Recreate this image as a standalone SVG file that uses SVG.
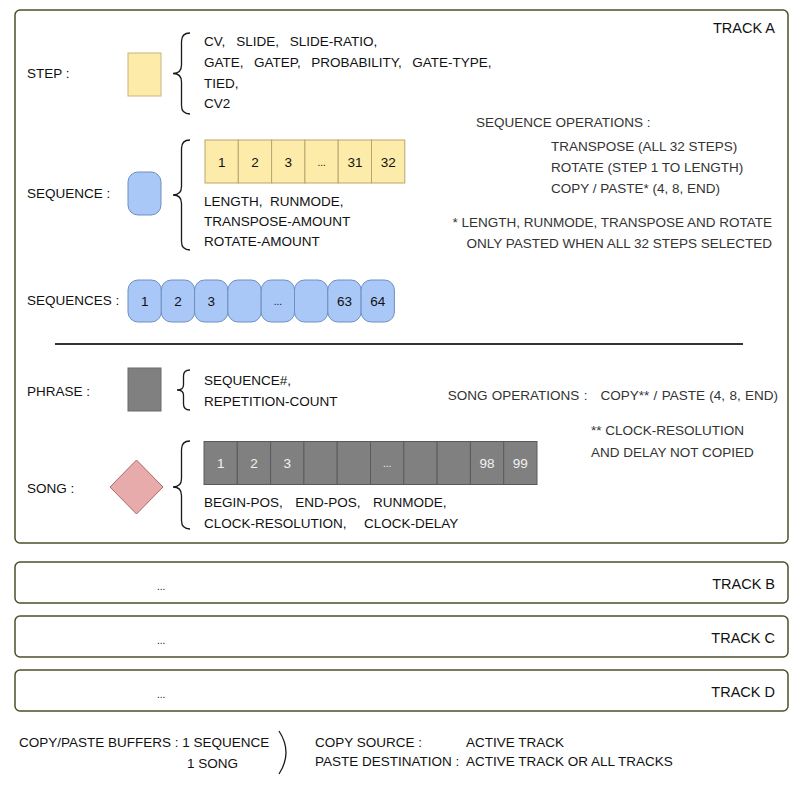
<svg xmlns="http://www.w3.org/2000/svg" width="797" height="788" viewBox="0 0 797 788">
<style>
text{font-family:"Liberation Sans","Noto Sans",Arial,sans-serif;font-size:13.5px;fill:#111;white-space:pre}
.op{fill:#333}
.end{text-anchor:end}
.mid{text-anchor:middle}
.wt{fill:#f2f2f2}
.tl{font-size:14.5px}
.track{fill:#fff;stroke:#4f4f2c;stroke-width:1.5}
.ycell{fill:#fdeba9;stroke:#b9a66e;stroke-width:1}
.bcell{fill:#a9c8f7;stroke:#6e8fbf;stroke-width:1}
.gcell{fill:#808080;stroke:#5a5a5a;stroke-width:1}
.brace{fill:none;stroke:#1a1a1a;stroke-width:1.3}
.dots{font-size:10px}
</style>
<g id="trackA">
<rect class="track" x="15" y="10" width="773" height="533" rx="5"/>
<text class="end tl" x="775" y="33">TRACK A</text>
</g>
<g id="step">
<text x="27" y="78">STEP :</text>
<rect x="128" y="53" width="33" height="43" fill="#fdeba9" stroke="#c9b47c" stroke-width="1"/>
<text x="204" y="46" word-spacing="1.7">CV,  SLIDE,  SLIDE-RATIO,</text>
<text x="204" y="67" word-spacing="1.5">GATE,  GATEP,  PROBABILITY,  GATE-TYPE,</text>
<text x="204" y="88">TIED,</text>
<text x="204" y="108">CV2</text>
</g>
<g id="sequence">
<text x="27" y="198">SEQUENCE :</text>
<rect x="128" y="172" width="33" height="43" rx="10" fill="#a9c8f7" stroke="#6e8fbf"/>
<rect class="ycell" x="205" y="140" width="33.3" height="43"/>
<rect class="ycell" x="238.3" y="140" width="33.3" height="43"/>
<rect class="ycell" x="271.6" y="140" width="33.3" height="43"/>
<rect class="ycell" x="304.9" y="140" width="33.3" height="43"/>
<rect class="ycell" x="338.2" y="140" width="33.3" height="43"/>
<rect class="ycell" x="371.5" y="140" width="33.3" height="43"/>
<text class="mid" x="221.7" y="167">1</text>
<text class="mid" x="255" y="167">2</text>
<text class="mid" x="288.3" y="167">3</text>
<text class="mid dots" x="321.6" y="166">...</text>
<text class="mid" x="354.9" y="167">31</text>
<text class="mid" x="388.2" y="167">32</text>
<text x="204" y="206">LENGTH,  RUNMODE,</text>
<text x="204" y="226">TRANSPOSE-AMOUNT</text>
<text x="204" y="246">ROTATE-AMOUNT</text>
</g>
<g id="seq-ops">
<text class="op" x="476" y="127">SEQUENCE OPERATIONS :</text>
<text class="op" x="551" y="151">TRANSPOSE (ALL 32 STEPS)</text>
<text class="op" x="551" y="172">ROTATE (STEP 1 TO LENGTH)</text>
<text class="op" x="551" y="193">COPY / PASTE* (4, 8, END)</text>
<text class="op end" x="772" y="227">* LENGTH, RUNMODE, TRANSPOSE AND ROTATE</text>
<text class="op end" x="772" y="248">ONLY PASTED WHEN ALL 32 STEPS SELECTED</text>
</g>
<g id="sequences">
<text x="27" y="305">SEQUENCES :</text>
<rect class="bcell" x="128" y="280" width="33.3" height="42" rx="10"/>
<rect class="bcell" x="161.3" y="280" width="33.3" height="42" rx="10"/>
<rect class="bcell" x="194.6" y="280" width="33.3" height="42" rx="10"/>
<rect class="bcell" x="227.9" y="280" width="33.3" height="42" rx="10"/>
<rect class="bcell" x="261.2" y="280" width="33.3" height="42" rx="10"/>
<rect class="bcell" x="294.5" y="280" width="33.3" height="42" rx="10"/>
<rect class="bcell" x="327.8" y="280" width="33.3" height="42" rx="10"/>
<rect class="bcell" x="361.1" y="280" width="33.3" height="42" rx="10"/>
<text class="mid" x="144.7" y="306">1</text>
<text class="mid" x="178" y="306">2</text>
<text class="mid" x="211.3" y="306">3</text>
<text class="mid dots" x="277.9" y="305">...</text>
<text class="mid" x="344.5" y="306">63</text>
<text class="mid" x="377.8" y="306">64</text>
</g>
<g id="separator">
<line x1="55" y1="344" x2="743" y2="344" stroke="#333" stroke-width="2"/>
</g>
<g id="phrase">
<text x="27" y="396">PHRASE :</text>
<rect x="128" y="368" width="33" height="43" fill="#808080" stroke="#6a6a6a"/>
<text x="204" y="385">SEQUENCE#,</text>
<text x="204" y="406">REPETITION-COUNT</text>
</g>
<g id="song-ops">
<text class="op end" x="778" y="400" word-spacing="0.6">SONG OPERATIONS :   COPY** / PASTE (4, 8, END)</text>
<text class="op" x="591" y="435">** CLOCK-RESOLUTION</text>
<text class="op" x="591" y="457">AND DELAY NOT COPIED</text>
</g>
<g id="song">
<text x="27" y="493">SONG :</text>
<polygon points="136.5,460 163,487 136.5,514 110,487" fill="#e8abab" stroke="#a86a66" stroke-width="1"/>
<rect class="gcell" x="204" y="441.5" width="33.3" height="43"/>
<rect class="gcell" x="237.3" y="441.5" width="33.3" height="43"/>
<rect class="gcell" x="270.6" y="441.5" width="33.3" height="43"/>
<rect class="gcell" x="303.9" y="441.5" width="33.3" height="43"/>
<rect class="gcell" x="337.2" y="441.5" width="33.3" height="43"/>
<rect class="gcell" x="370.5" y="441.5" width="33.3" height="43"/>
<rect class="gcell" x="403.8" y="441.5" width="33.3" height="43"/>
<rect class="gcell" x="437.1" y="441.5" width="33.3" height="43"/>
<rect class="gcell" x="470.4" y="441.5" width="33.3" height="43"/>
<rect class="gcell" x="503.7" y="441.5" width="33.3" height="43"/>
<text class="mid wt" x="220.7" y="468">1</text>
<text class="mid wt" x="254" y="468">2</text>
<text class="mid wt" x="287.3" y="468">3</text>
<text class="mid wt dots" x="387.2" y="467">...</text>
<text class="mid wt" x="487" y="468">98</text>
<text class="mid wt" x="520.3" y="468">99</text>
<text x="204" y="507" word-spacing="2.5">BEGIN-POS,  END-POS,  RUNMODE,</text>
<text x="204" y="528" word-spacing="5">CLOCK-RESOLUTION,  CLOCK-DELAY</text>
</g>
<g id="connectors">
<path class="brace" d="M190,33 Q181.5,33 181.5,41.5 L181.5,65 Q181.5,73.5 173,73.5 Q181.5,73.5 181.5,82 L181.5,105.5 Q181.5,114 190,114"/>
<path class="brace" d="M190,140 Q181.5,140 181.5,148.5 L181.5,186.5 Q181.5,195 173,195 Q181.5,195 181.5,203.5 L181.5,241.5 Q181.5,250 190,250"/>
<path class="brace" d="M190,370 Q183.5,370 183.5,376 L183.5,385 Q183.5,390 177,390 Q183.5,390 183.5,395 L183.5,404 Q183.5,410 190,410"/>
<path class="brace" d="M190,441 Q181.5,441 181.5,449.5 L181.5,478.5 Q181.5,487 173,487 Q181.5,487 181.5,495.5 L181.5,520.5 Q181.5,529 190,529"/>
<path class="brace" d="M279,731 Q293,752.5 279,774"/>
</g>
<g id="trackB">
<rect class="track" x="15" y="562" width="773" height="41" rx="5"/>
<text class="dots" x="157" y="590">...</text>
<text class="end tl" x="775" y="589">TRACK B</text>
</g>
<g id="trackC">
<rect class="track" x="15" y="616" width="773" height="41" rx="5"/>
<text class="dots" x="157" y="644">...</text>
<text class="end tl" x="775" y="643">TRACK C</text>
</g>
<g id="trackD">
<rect class="track" x="15" y="670" width="773" height="41" rx="5"/>
<text class="dots" x="157" y="698">...</text>
<text class="end tl" x="775" y="697">TRACK D</text>
</g>
<g id="buffers">
<text x="19" y="747">COPY/PASTE BUFFERS : 1 SEQUENCE</text>
<text x="187" y="768">1 SONG</text>
<text x="315" y="747">COPY SOURCE :</text>
<text x="466" y="747">ACTIVE TRACK</text>
<text x="315" y="766">PASTE DESTINATION :</text>
<text x="466" y="766">ACTIVE TRACK OR ALL TRACKS</text>
</g>
</svg>
